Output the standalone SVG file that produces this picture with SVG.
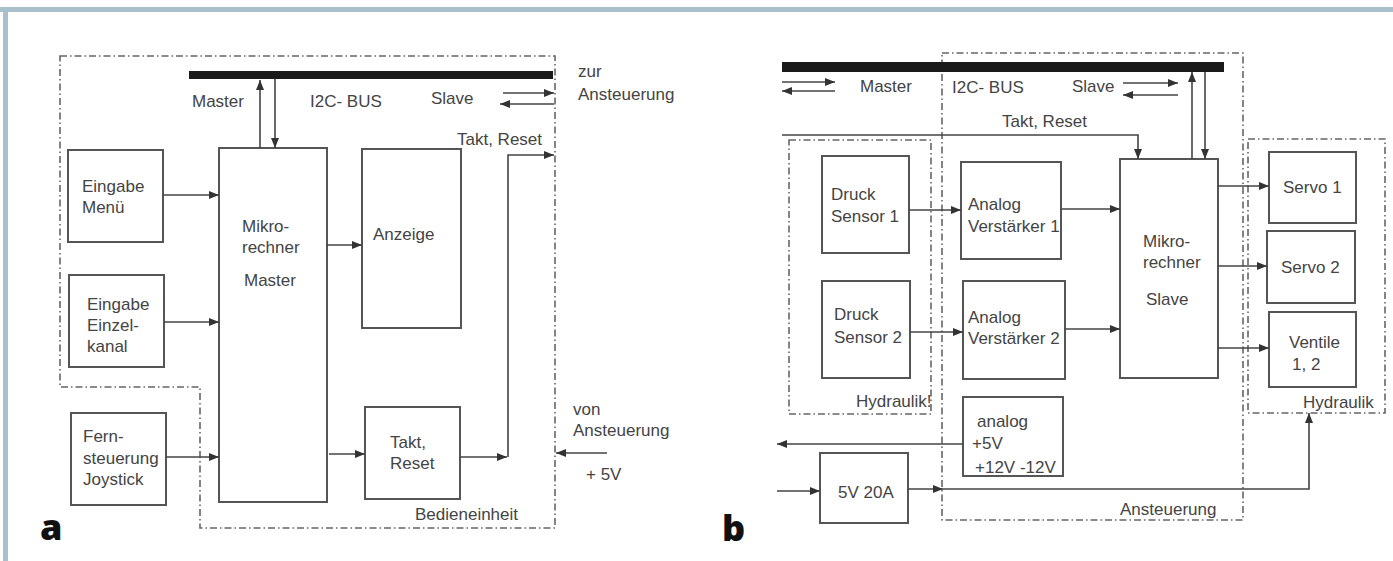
<svg xmlns="http://www.w3.org/2000/svg" width="1393" height="561" viewBox="0 0 1393 561">
<defs>
<marker id="ah" viewBox="0 0 10 8" refX="10" refY="4" markerWidth="10" markerHeight="8" markerUnits="userSpaceOnUse" orient="auto">
<path d="M0,0 L10,4 L0,8 Z" fill="#333"/>
</marker>
<style>
.box{fill:#fff;stroke:#555;stroke-width:2}
.dd{fill:none;stroke:#666;stroke-width:1.6;stroke-dasharray:7 3 1.5 3}
.c{fill:none;stroke:#444;stroke-width:1.6;marker-end:url(#ah)}
.bus{fill:#1a1a1a}
text{font-family:"Liberation Sans",Arial,sans-serif;font-size:17px;fill:#444}
.big{font-family:"Open Sans","Liberation Sans",Arial,sans-serif;font-weight:800;font-size:36px;fill:#111}
</style>
</defs>
<rect x="0" y="0" width="1393" height="561" fill="#fff"/>
<rect x="0" y="7" width="1393" height="5" fill="#a9bfcb"/>
<rect x="3" y="7" width="5" height="554" fill="#a9bfcb"/>

<g id="boundaries">
<path class="dd" d="M60,56 H555 V528 H200 V387 H60 Z"/>
<rect class="dd" x="942" y="53" width="301" height="467"/>
<rect class="dd" x="789" y="140" width="142" height="274"/>
<rect class="dd" x="1248" y="139" width="137" height="274"/>
<text x="415" y="520">Bedieneinheit</text>
<text x="1120" y="515">Ansteuerung</text>
<text x="856" y="407">Hydraulik!</text>
<text x="1303" y="408">Hydraulik</text>
</g>

<g id="bus-left">
<rect class="bus" x="189" y="71" width="364" height="8"/>
<text x="192" y="107">Master</text>
<text x="310" y="107">I2C- BUS</text>
<text x="431" y="104">Slave</text>
</g>
<g id="bus-right">
<rect class="bus" x="782" y="62" width="442" height="10"/>
<text x="860" y="92">Master</text>
<text x="952" y="93">I2C- BUS</text>
<text x="1072" y="92">Slave</text>
</g>

<g id="eingabe-menu"><rect class="box" x="68" y="150" width="95" height="92"/><text x="82" y="192">Eingabe</text><text x="82" y="213">Menü</text></g>
<g id="eingabe-einzelkanal"><rect class="box" x="69" y="275" width="95" height="92"/><text x="87" y="310">Eingabe</text><text x="87" y="331">Einzel-</text><text x="87" y="352">kanal</text></g>
<g id="fernsteuerung"><rect class="box" x="71" y="413" width="95" height="92"/><text x="83" y="442">Fern-</text><text x="83" y="464">steuerung</text><text x="83" y="485">Joystick</text></g>
<g id="mikro-master"><rect class="box" x="219" y="148" width="108" height="354"/><text x="242" y="232">Mikro-</text><text x="242" y="253">rechner</text><text x="244" y="286">Master</text></g>
<g id="anzeige"><rect class="box" x="362" y="149" width="99" height="179"/><text x="373" y="240">Anzeige</text></g>
<g id="takt-reset"><rect class="box" x="365" y="407" width="95" height="92"/><text x="390" y="448">Takt,</text><text x="390" y="469">Reset</text></g>

<g id="labels-left">
<text x="578" y="77">zur</text>
<text x="578" y="100">Ansteuerung</text>
<text x="457" y="145">Takt, Reset</text>
<text x="573" y="415">von</text>
<text x="573" y="436">Ansteuerung</text>
<text x="586" y="480">+ 5V</text>
<text class="big" x="40" y="540">a</text>
</g>

<g id="druck-sensor-1"><rect class="box" x="822" y="156" width="87" height="97"/><text x="831" y="200">Druck</text><text x="831" y="222">Sensor 1</text></g>
<g id="druck-sensor-2"><rect class="box" x="822" y="281" width="88" height="97"/><text x="834" y="320">Druck</text><text x="834" y="343">Sensor 2</text></g>
<g id="analog-verstaerker-1"><rect class="box" x="961" y="162" width="100" height="97"/><text x="968" y="210">Analog</text><text x="968" y="232">Verstärker 1</text></g>
<g id="analog-verstaerker-2"><rect class="box" x="963" y="281" width="102" height="98"/><text x="968" y="323">Analog</text><text x="968" y="344">Verstärker 2</text></g>
<g id="analog-supply"><rect class="box" x="963" y="397" width="100" height="79"/><text x="977" y="427">analog</text><text x="972" y="449">+5V</text><text x="975" y="473">+12V -12V</text></g>
<g id="netzteil"><rect class="box" x="820" y="453" width="88" height="70"/><text x="838" y="498">5V 20A</text></g>
<g id="mikro-slave"><rect class="box" x="1120" y="159" width="98" height="219"/><text x="1143" y="247">Mikro-</text><text x="1143" y="268">rechner</text><text x="1146" y="305">Slave</text></g>
<g id="servo-1"><rect class="box" x="1269" y="152" width="87" height="71"/><text x="1283" y="193">Servo 1</text></g>
<g id="servo-2"><rect class="box" x="1267" y="231" width="88" height="72"/><text x="1281" y="273">Servo 2</text></g>
<g id="ventile"><rect class="box" x="1269" y="312" width="87" height="75"/><text x="1289" y="348">Ventile</text><text x="1292" y="370">1, 2</text></g>

<g id="labels-right">
<text x="1002" y="127">Takt,  Reset</text>
<text class="big" x="722" y="541">b</text>
</g>

<g id="connectors">
<path class="c" d="M260,148 V80"/>
<path class="c" d="M275,79 V148"/>
<path class="c" d="M163,195 H219"/>
<path class="c" d="M164,322 H219"/>
<path class="c" d="M166,457 H219"/>
<path class="c" d="M327,245 H362"/>
<path class="c" d="M329,454 H365"/>
<path class="c" d="M460,457 H507"/>
<path class="c" d="M508,457 V155 H554"/>
<path class="c" d="M503,93 H554"/>
<path class="c" d="M554,104 H500"/>
<path class="c" d="M607,453 H556"/>

<path class="c" d="M782,82 H835"/>
<path class="c" d="M835,91 H782"/>
<path class="c" d="M1123,83 H1178"/>
<path class="c" d="M1178,95 H1123"/>
<path class="c" d="M1192,159 V72"/>
<path class="c" d="M1205,72 V159"/>
<path class="c" d="M782,135 H1138 V159"/>
<path class="c" d="M909,210 H961"/>
<path class="c" d="M910,332 H963"/>
<path class="c" d="M1061,209 H1120"/>
<path class="c" d="M1065,329 H1120"/>
<path class="c" d="M1218,186 H1269"/>
<path class="c" d="M1218,266 H1267"/>
<path class="c" d="M1218,348 H1269"/>
<path class="c" d="M963,444 H777"/>
<path class="c" d="M777,491 H820"/>
<path class="c" d="M908,489 H943"/>
<path class="c" d="M943,489 H1309 V413"/>
</g>
</svg>
